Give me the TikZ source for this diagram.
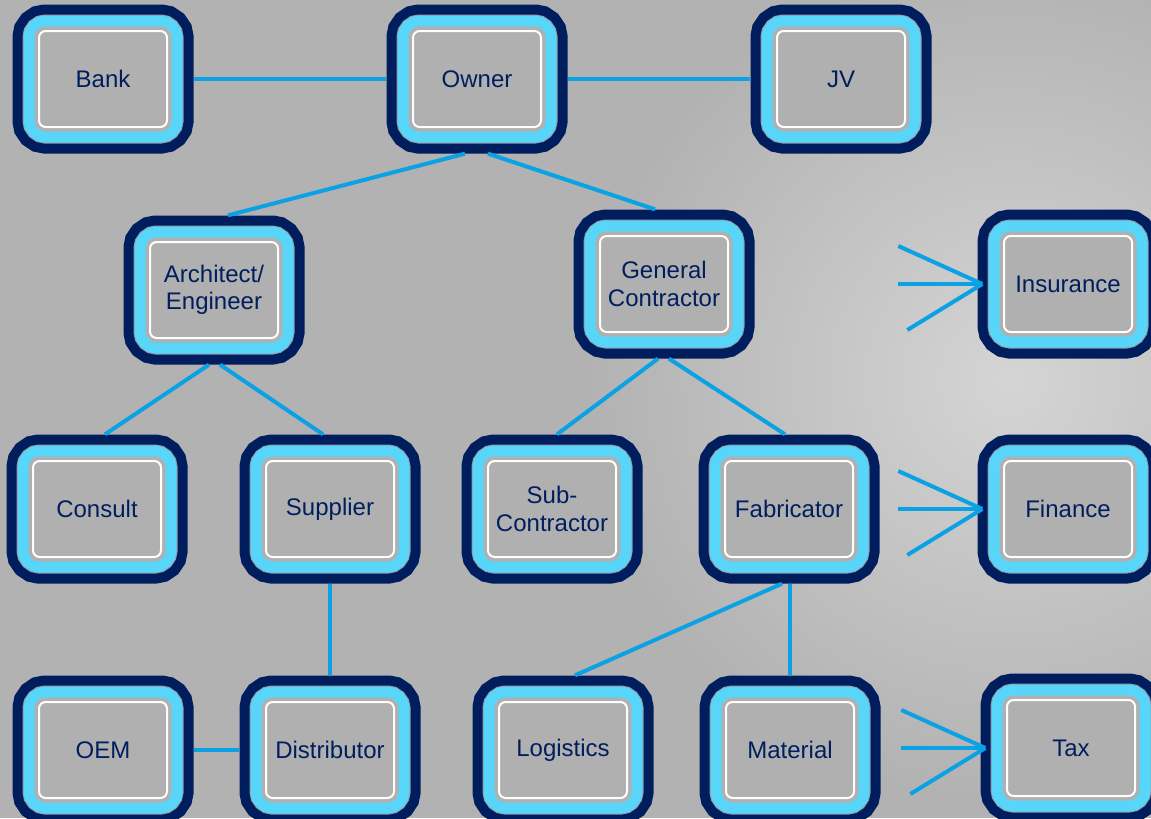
\documentclass[tikz,border=0pt]{standalone}
\usepackage{fontspec}
\setmainfont{Liberation Sans}
\usetikzlibrary{calc}
\definecolor{boxnavy}{RGB}{0,30,94}
\definecolor{skyband}{RGB}{88,214,250}
\definecolor{boxgray}{RGB}{176,176,176}
\definecolor{rimgray}{RGB}{150,152,165}
\definecolor{bggray}{RGB}{178,178,178}
\definecolor{linkblue}{RGB}{10,162,228}

\begin{document}
\begin{tikzpicture}[x=0.75pt, y=-0.75pt,
  party/.style={draw=white, line width=1.5pt, fill=boxgray, rounded corners=5pt,
    minimum width=96pt, minimum height=72pt, inner sep=2pt, outer sep=20pt,
    text=boxnavy, align=center, font=\fontsize{18}{20.5}\selectfont,
    preaction={draw=boxnavy, line width=39.75pt},
    preaction={draw=rimgray, line width=24.75pt},
    preaction={draw=skyband, line width=23.25pt},
    preaction={draw=boxgray, line width=6.75pt}},
  link/.style={draw=linkblue, line width=3pt}]
\useasboundingbox (0,0) rectangle (1151,818);
\fill[bggray] (0,0) rectangle (1151,818);
\begin{scope}
\clip (0,0) rectangle (1151,818);
\shade[inner color=bggray!55!white, outer color=bggray] (1010,380) circle (420);
\end{scope}

% parties
\node[party] (bank) at (103,79) {Bank};
\node[party] (owner) at (477,79) {Owner};
\node[party] (jv) at (841,79) {JV};
\node[party] (arch) at (214,290) {Architect/\\Engineer};
\node[party] (gc) at (664,284) {General\\Contractor};
\node[party] (insurance) at (1068,284) {Insurance};
\node[party] (consult) at (97,509) {Consult};
\node[party] (supplier) at (330,509) {Supplier};
\node[party] (sub) at (552,509) {Sub-\\Contractor};
\node[party] (fab) at (789,509) {Fabricator};
\node[party] (finance) at (1068,509) {Finance};
\node[party] (oem) at (103,750) {OEM};
\node[party] (dist) at (330,750) {Distributor};
\node[party] (logistics) at (563,750) {Logistics};
\node[party] (material) at (790,750) {Material};
\node[party] (tax) at (1071,748) {Tax};

% links
\draw[link] (bank) -- (owner);
\draw[link] (owner) -- (jv);
\draw[link] ($(owner.south)+(-12,0)$) -- ($(arch.north)+(14,0)$);
\draw[link] ($(owner.south)+(11,0)$) -- ($(gc.north)+(-9,0)$);
\draw[link] ($(arch.south)+(-5,0)$) -- ($(consult.north)+(8,0)$);
\draw[link] ($(arch.south)+(6,0)$) -- ($(supplier.north)+(-7,0)$);
\draw[link] ($(gc.south)+(-6,0)$) -- ($(sub.north)+(5,0)$);
\draw[link] ($(gc.south)+(5,0)$) -- ($(fab.north)+(-4,0)$);
\draw[link] (supplier.south) -- (dist.north);
\draw[link] (oem) -- (dist);
\draw[link] ($(fab.south)+(-7,0)$) -- ($(logistics.north)+(12,0)$);
\draw[link] ($(fab.south)+(1,0)$) -- (material.north);

% fans
\foreach \t in {insurance,finance,tax}{
  \coordinate (\t tip) at ($(\t.west)+(5,0)$);
  \foreach \dx/\dy in {-84/-38,-84/0,-75/46}
    \draw[link] ($(\t tip)+(\dx,\dy)$) -- (\t tip);
}
\end{tikzpicture}
\end{document}
